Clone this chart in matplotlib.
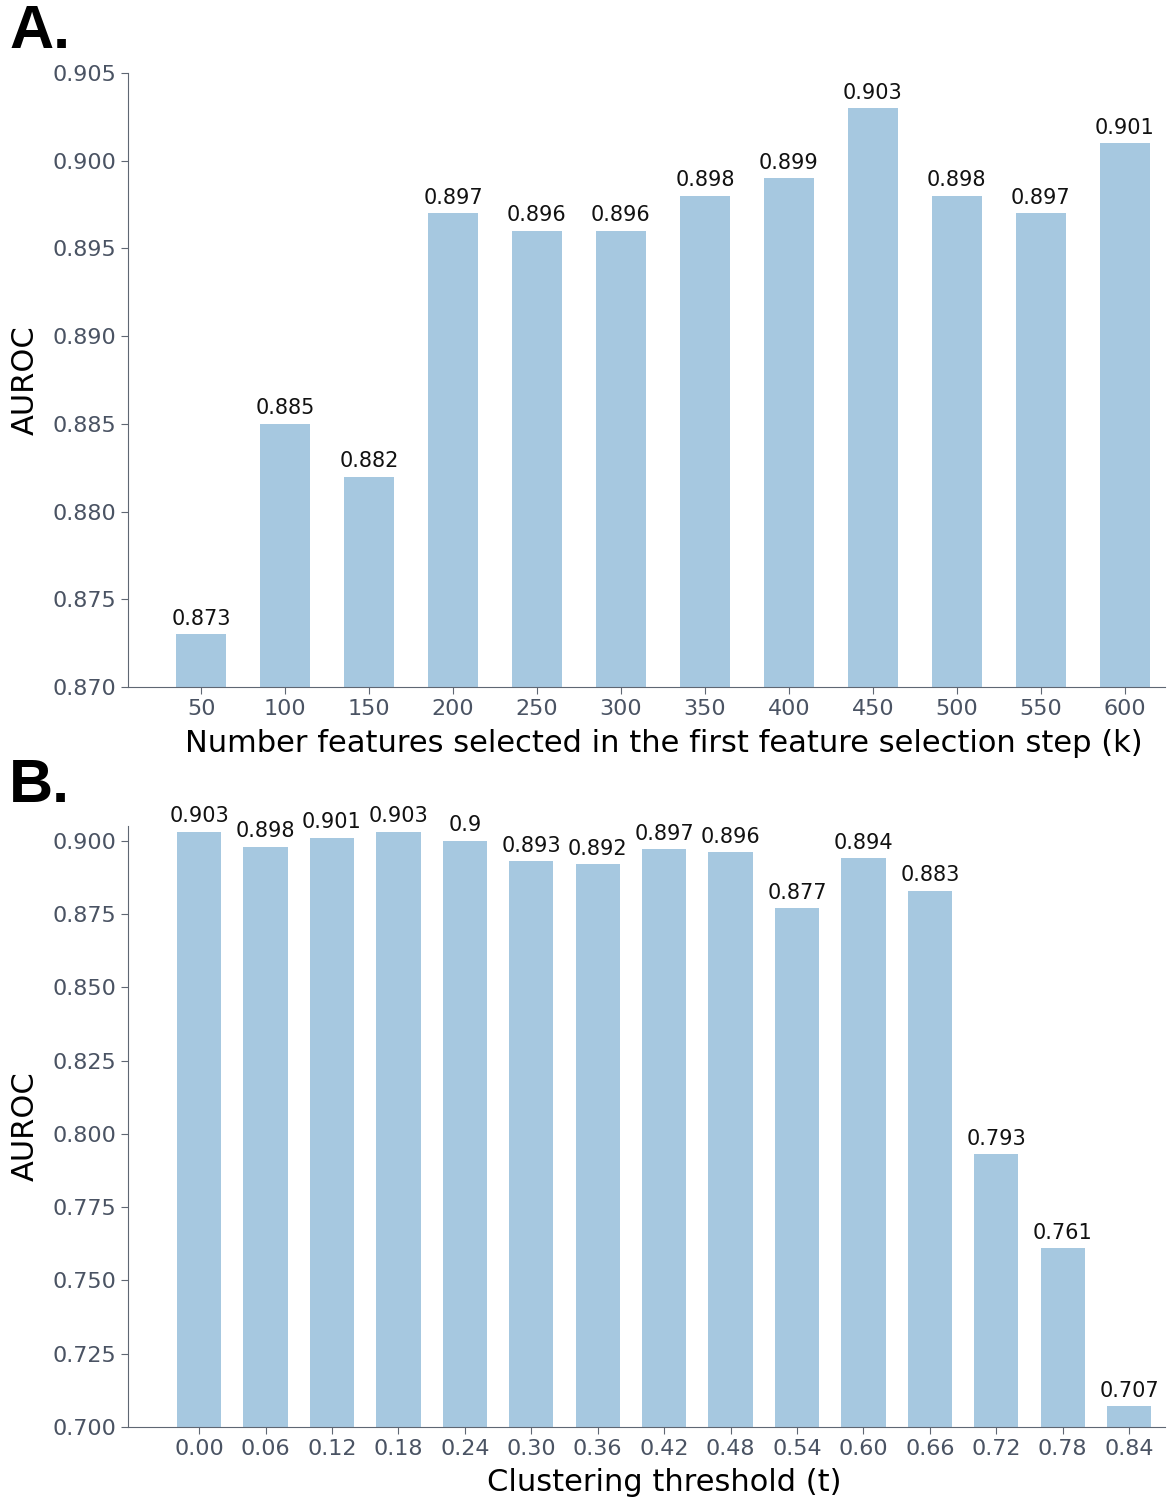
import matplotlib
matplotlib.use('Agg')
import matplotlib.pyplot as plt
import numpy as np

# panel A: k values and AUROC
k_values = [50, 100, 150, 200, 250, 300, 350, 400, 450, 500, 550, 600]
auroc_k = [0.873, 0.885, 0.882, 0.897, 0.896, 0.896, 0.898, 0.899, 0.903, 0.898, 0.897, 0.901]

# panel B: clustering threshold and AUROC
t_labels = ['0.00', '0.06', '0.12', '0.18', '0.24', '0.30', '0.36', '0.42', '0.48',
            '0.54', '0.60', '0.66', '0.72', '0.78', '0.84']
auroc_t = [0.903, 0.898, 0.901, 0.903, 0.9, 0.893, 0.892, 0.897, 0.896,
           0.877, 0.894, 0.883, 0.793, 0.761, 0.707]

bar_color = '#a6c8e0'
spine_color = '#5f6773'
tick_color = '#4a5363'

fig = plt.figure(figsize=(11.67, 15), dpi=100)
ax1 = fig.add_axes([0.1097, 0.542, 0.8886, 0.4093])
ax2 = fig.add_axes([0.1097, 0.0487, 0.8886, 0.4006])


def style_axis(ax):
    ax.spines['top'].set_visible(False)
    ax.spines['right'].set_visible(False)
    ax.spines['left'].set_color(spine_color)
    ax.spines['bottom'].set_color(spine_color)
    ax.tick_params(axis='both', colors=spine_color, labelcolor=tick_color,
                   labelsize=16, length=5)


def label_bars(ax, bars, values):
    for b, v in zip(bars, values):
        ax.annotate(str(v), (b.get_x() + b.get_width() / 2, b.get_height()),
                    xytext=(0, 4), textcoords='offset points',
                    ha='center', va='bottom', fontsize=15, color='#111111')


# A.
x1 = np.arange(len(k_values))
bars1 = ax1.bar(x1, auroc_k, width=0.6, color=bar_color)
ax1.set_ylim(0.870, 0.905)
ax1.set_xlim(-0.87, 11.48)
ax1.set_xticks(x1)
ax1.set_xticklabels([str(k) for k in k_values])
ax1.set_yticks(np.arange(0.870, 0.9051, 0.005))
ax1.yaxis.set_major_formatter(matplotlib.ticker.FormatStrFormatter('%.3f'))
style_axis(ax1)
label_bars(ax1, bars1, auroc_k)
ax1.set_ylabel('AUROC', fontsize=22, labelpad=9)
ax1.set_xlabel('Number features selected in the first feature selection step (k)', fontsize=22)
ax1.xaxis.set_label_coords(0.517, -0.068)
fig.text(0.008, 1 - 4 / 1500, 'A.', fontsize=44, fontweight='bold', va='top',
         family='Liberation Sans')

# B.
x2 = np.arange(len(t_labels))
bars2 = ax2.bar(x2, auroc_t, width=0.667, color=bar_color)
ax2.set_ylim(0.700, 0.905)
ax2.set_xlim(-1.07, 14.54)
ax2.set_xticks(x2)
ax2.set_xticklabels(t_labels)
ax2.set_yticks(np.arange(0.700, 0.9001, 0.025))
ax2.yaxis.set_major_formatter(matplotlib.ticker.FormatStrFormatter('%.3f'))
style_axis(ax2)
label_bars(ax2, bars2, auroc_t)
ax2.set_ylabel('AUROC', fontsize=22, labelpad=9)
ax2.set_xlabel('Clustering threshold (t)', fontsize=22)
ax2.xaxis.set_label_coords(0.517, -0.069)
fig.text(0.008, 1 - 758 / 1500, 'B.', fontsize=44, fontweight='bold', va='top',
         family='Liberation Sans')

fig.savefig('out.png', dpi=100)
